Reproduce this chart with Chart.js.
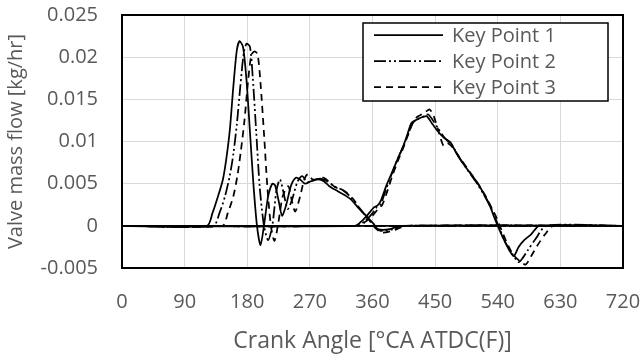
<!DOCTYPE html>
<html>
<head>
<meta charset="utf-8">
<script src="https://cdn.jsdelivr.net/npm/chart.js@4"></script>
<style>
  html, body { margin: 0; padding: 0; background: #fff; }
  #wrap { width: 642px; height: 358px; }
</style>
</head>
<body>
<div id="wrap"><canvas id="flowChart"></canvas></div>
<script>
// Series names and axis ticks
const seriesNames = ['Key Point 1', 'Key Point 2', 'Key Point 3'];
const xTicks = [0, 90, 180, 270, 360, 450, 540, 630, 720];
const yTicks = [-0.005, 0, 0.005, 0.01, 0.015, 0.02, 0.025];

// Exhaust valve flow, [crank angle, kg/hr]
const kp1Exhaust = [[0,0],[122,0],[130,0.0015],[138,0.0035],[145,0.0055],[150,0.008],[155,0.0114],[160,0.0165],[165,0.0208],[169,0.0219],[174,0.0212],[179,0.0172],[184,0.011],[189,0.0048],[194,0],[199,-0.0023],[204,0],[210,0.0035],[216,0.005],[220,0.0048],[225,0.003],[230,0.0012],[236,0.0025],[243,0.0048],[250,0.0057],[256,0.0055],[263,0.005],[272,0.0053],[282,0.0055],[290,0.0053],[298,0.0047],[310,0.0041],[328,0.0032],[340,0.0021],[352,0.0011],[362,0.0002],[368,-0.0004],[385,-0.0004],[400,0],[720,0]];
const kp2Exhaust = [[0,0],[131,0],[140,0.0015],[148,0.0035],[155,0.006],[160,0.0085],[165,0.012],[170,0.0165],[175,0.0205],[179,0.0216],[184,0.0212],[188,0.0175],[193,0.011],[198,0.0045],[204,0],[210,-0.0017],[216,0],[222,0.0042],[227,0.0055],[232,0.004],[238,0.002],[244,0.003],[252,0.0052],[259,0.0059],[266,0.0052],[275,0.0054],[285,0.0056],[295,0.0053],[305,0.0047],[318,0.0042],[330,0.0033],[342,0.002],[354,0.0008],[365,-0.0003],[372,-0.0006],[390,-0.0004],[405,0],[720,0]];
const kp3Exhaust = [[0,0],[144,0],[152,0.0015],[160,0.0035],[166,0.006],[171,0.009],[176,0.0125],[181,0.017],[186,0.0203],[191,0.0207],[195,0.0203],[199,0.017],[204,0.011],[209,0.0045],[214,0],[219,-0.0018],[224,0],[231,0.0035],[239,0.0047],[244,0.003],[249,0.0017],[256,0.0035],[262,0.0055],[267,0.0061],[274,0.0055],[282,0.0056],[290,0.0057],[298,0.0052],[306,0.0046],[320,0.0041],[332,0.0032],[344,0.0018],[356,0.0006],[366,-0.0004],[374,-0.0008],[392,-0.0005],[408,0],[720,0]];

// Intake valve flow, [crank angle, kg/hr]
const kp1Intake = [[0,0],[335,0],[345,0.0006],[355,0.0015],[362,0.0022],[367,0.0024],[372,0.003],[380,0.0048],[390,0.0067],[398,0.0083],[404,0.0094],[410,0.0108],[416,0.0122],[424,0.0126],[432,0.0129],[438,0.013],[445,0.0122],[452,0.0114],[462,0.0105],[472,0.0099],[480,0.0087],[486,0.0079],[498,0.0065],[510,0.0052],[520,0.0038],[529,0.0023],[535,0.001],[540,0],[548,-0.0015],[556,-0.0028],[563,-0.0036],[570,-0.0025],[578,-0.0017],[588,-0.001],[600,0],[720,0]];
const kp2Intake = [[0,0],[338,0],[348,0.0005],[358,0.0013],[366,0.0022],[372,0.0026],[378,0.004],[386,0.0058],[394,0.0075],[402,0.009],[410,0.0106],[418,0.0122],[426,0.0127],[434,0.013],[440,0.0132],[446,0.0126],[454,0.0116],[464,0.0104],[474,0.0096],[484,0.0082],[496,0.0067],[508,0.0053],[520,0.0037],[530,0.0022],[536,0.001],[541,0],[550,-0.0018],[560,-0.0032],[570,-0.0043],[576,-0.0038],[584,-0.0028],[594,-0.0016],[610,0],[720,0]];
const kp3Intake = [[0,0],[340,0],[350,0.0005],[360,0.0012],[368,0.002],[374,0.0025],[380,0.0038],[388,0.0058],[396,0.0076],[404,0.0092],[412,0.011],[420,0.0126],[428,0.0131],[436,0.0135],[442,0.0138],[448,0.013],[455,0.0112],[462,0.0095],[468,0.0098],[476,0.0092],[486,0.008],[498,0.0066],[510,0.0052],[522,0.0036],[532,0.002],[538,0.001],[543,0],[552,-0.0018],[562,-0.0034],[572,-0.0042],[580,-0.0046],[588,-0.0036],[598,-0.0022],[608,-0.001],[620,0],[720,0]];

const FONT = '"Open Sans", "DejaVu Sans", sans-serif';
const TEXT = '#595959';
const dashes = [[], [12, 3, 2, 3, 2, 3], [7, 5]];

function toPts(arr) {
    return arr.map(p => ({ x: p[0], y: p[1] }));
}

const allSeries = [
    kp1Exhaust.concat(kp1Intake),
    kp2Exhaust.concat(kp2Intake),
    kp3Exhaust.concat(kp3Intake)
];

// box around the plot area
const frame = {
    id: 'frame',
    beforeDatasetsDraw(chart) {
        const a = chart.chartArea, ctx = chart.ctx;
        ctx.save();
        ctx.strokeStyle = '#000';
        ctx.lineWidth = 2;
        ctx.strokeRect(a.left, a.top, a.right - a.left, a.bottom - a.top);
        ctx.restore();
    }
};

// Excel-style boxed legend in the upper right
const boxLegend = {
    id: 'boxLegend',
    afterDraw(chart) {
        const ctx = chart.ctx;
        const x0 = 363, y0 = 23, w = 245, h = 78;
        ctx.save();
        ctx.fillStyle = '#fff';
        ctx.fillRect(x0, y0, w, h);
        ctx.strokeStyle = '#000';
        ctx.lineWidth = 1.5;
        ctx.strokeRect(x0, y0, w, h);
        ctx.font = '20px ' + FONT;
        ctx.textBaseline = 'middle';
        chart.data.datasets.forEach((ds, i) => {
            const y = y0 + 12 + i * 26;
            ctx.strokeStyle = '#000';
            ctx.lineWidth = 1.75;
            ctx.setLineDash(ds.borderDash);
            ctx.beginPath();
            ctx.moveTo(374, y);
            ctx.lineTo(443, y);
            ctx.stroke();
            ctx.setLineDash([]);
            ctx.fillStyle = TEXT;
            ctx.fillText(ds.label, 452, y + 1);
        });
        ctx.restore();
    }
};

new Chart(document.getElementById('flowChart'), {
    type: 'scatter',
    data: {
        datasets: seriesNames.map((name, i) => ({
            label: name,
            data: toPts(allSeries[i]),
            showLine: true,
            borderColor: '#000',
            borderWidth: 1.75,
            borderDash: dashes[i],
            pointRadius: 0,
            tension: 0.25,
            fill: false
        }))
    },
    options: {
        responsive: true,
        maintainAspectRatio: false,
        animation: false,
        layout: { padding: { top: 15, right: 19, left: 0, bottom: 0 } },
        plugins: { legend: { display: false }, tooltip: { enabled: false } },
        scales: {
            x: {
                type: 'linear', min: 0, max: 720,
                afterBuildTicks: s => { s.ticks = xTicks.map(v => ({ value: v })); },
                afterFit: s => { s.height = 90; s.paddingLeft = 0; s.paddingRight = 0; },
                grid: { color: '#d9d9d9', lineWidth: 1, drawTicks: false },
                border: { display: false },
                ticks: { color: TEXT, font: { family: FONT, size: 20 }, padding: 22, maxRotation: 0 },
                title: { display: true, text: 'Crank Angle [°CA ATDC(F)]', color: TEXT,
                         font: { family: FONT, size: 23 }, padding: { top: 0, bottom: 3 } }
            },
            y: {
                type: 'linear', min: -0.005, max: 0.025,
                afterBuildTicks: s => { s.ticks = yTicks.map(v => ({ value: v })); },
                afterFit: s => { s.width = 122; s.paddingTop = 0; s.paddingBottom = 0; },
                grid: { color: '#d9d9d9', lineWidth: 1, drawTicks: false },
                border: { display: false },
                ticks: { color: TEXT, font: { family: FONT, size: 20 }, padding: 24,
                         callback: v => String(Math.round(v * 1000) / 1000) },
                title: { display: true, text: 'Valve mass flow [kg/hr]', color: TEXT,
                         font: { family: FONT, size: 20 }, padding: { top: 4, bottom: 0 } }
            }
        }
    },
    plugins: [frame, boxLegend]
});
</script>
</body>
</html>
